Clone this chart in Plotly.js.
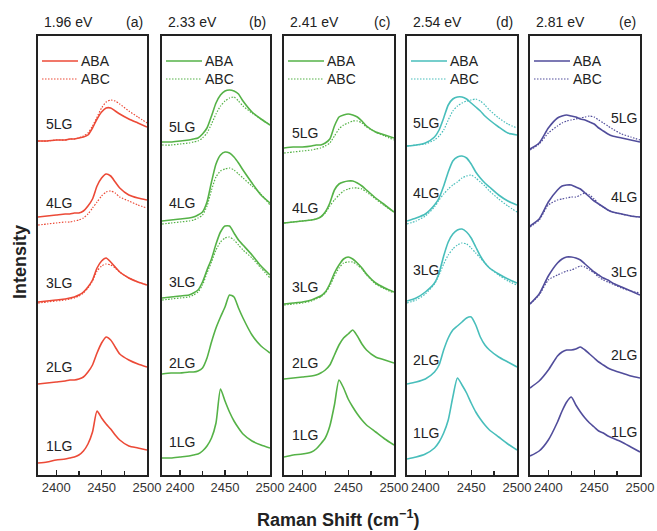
<!DOCTYPE html>
<html>
<head>
<meta charset="utf-8">
<script src="https://cdn.plot.ly/plotly-3.0.1.min.js"></script>
<style>html,body{margin:0;padding:0;background:#fff;}#chart{width:657px;height:531px;}</style>
</head>
<body>
<div id="chart"></div>
<script>
// ---------------- DATA ----------------
const ramanShift = [2380,2390,2400,2410,2415,2420,2425,2430,2435,2440,2445,2450,2455,2460,2465,2470,2480,2490,2500];
const excitationEnergies = ['1.96 eV','2.33 eV','2.41 eV','2.54 eV','2.81 eV'];
const panelTags = ['(a)','(b)','(c)','(d)','(e)'];
const layerLabels = ['5LG','4LG','3LG','2LG','1LG'];
const stackingNames = ['ABA','ABC'];

// Intensity (arb. units, stacked offsets as in the figure)
// 1.96 eV
const a_ABA_5LG = [334,334,335,335,336,336,337,338,340,347,356,363,367,367,364,361,356,352,348];
const a_ABC_5LG = [334,334,335,335,336,336,337,339,342,349,358,367,373,375,374,371,364,358,352];
const a_ABA_4LG = [258,259,260,261,261,262,262,264,269,276,289,297,301,299,293,287,280,277,275];
const a_ABC_4LG = [250,251,252,253,253,254,255,257,261,267,273,279,283,284,282,278,274,270,267];
const a_ABA_3LG = [173,174,175,176,177,178,180,183,188,195,207,214,217,213,208,203,197,193,190];
const a_ABC_3LG = [172,173,174,175,176,177,179,182,187,194,204,209,211,210,207,203,197,193,190];
const a_ABA_2LG = [91,92,93,94,95,95,96,98,103,110,122,132,138,135,128,121,115,111,108];
const a_ABA_1LG = [12,13,15,16,17,18,20,24,31,43,64,57,51,46,40,35,29,27,25];
// 2.33 eV
const b_ABA_5LG = [333,333,334,335,336,337,341,347,359,372,380,384,385,384,381,374,363,356,350];
const b_ABC_5LG = [330,330,331,332,333,334,337,342,351,361,369,374,377,378,374,369,362,356,350];
const b_ABA_4LG = [254,255,256,257,258,260,263,273,293,311,320,323,322,318,312,305,292,280,272];
const b_ABC_4LG = [251,252,253,254,255,257,260,269,285,298,304,306,307,305,301,297,289,281,270];
const b_ABA_3LG = [177,178,179,180,182,185,193,205,216,231,243,249,249,242,235,230,220,209,200];
const b_ABC_3LG = [175,176,177,178,180,183,190,202,213,225,233,237,238,235,230,225,217,207,197];
const b_ABA_2LG = [101,102,102,103,103,104,107,117,133,147,158,168,180,178,167,157,140,129,122];
const b_ABA_1LG = [17,17,18,19,20,21,24,29,37,52,86,74,63,54,47,41,34,30,27];
// 2.41 eV
const c_ABA_5LG = [327,328,328,329,330,330,332,336,349,358,360,361,360,358,354,349,343,340,337];
const c_ABC_5LG = [322,323,324,325,326,327,329,332,339,346,350,352,354,354,352,348,343,339,335];
const c_ABA_4LG = [252,253,254,255,256,258,263,272,285,291,293,294,294,292,289,285,277,270,263];
const c_ABC_4LG = [252,253,254,255,256,258,262,269,275,280,284,286,287,287,286,283,276,269,263];
const c_ABA_3LG = [171,172,173,175,177,179,183,191,202,210,216,218,216,212,207,201,192,187,183];
const c_ABC_3LG = [170,171,172,174,176,178,182,189,199,207,212,213,213,210,206,200,191,186,182];
const c_ABA_2LG = [96,97,98,99,100,102,105,110,120,130,137,141,145,139,131,125,118,115,112];
const c_ABA_1LG = [18,20,21,23,26,31,37,49,70,95,87,76,68,61,55,50,43,36,30];
// 2.54 eV
const d_ABA_5LG = [329,330,332,338,345,357,370,376,378,378,376,372,368,364,359,355,348,342,340];
const d_ABC_5LG = [329,330,331,335,339,345,355,364,369,372,374,375,376,374,370,365,357,351,347];
const d_ABA_4LG = [254,257,261,270,277,289,303,314,318,319,317,311,303,297,292,288,280,274,270];
const d_ABC_4LG = [251,254,259,268,275,281,286,290,293,297,299,300,297,293,289,284,276,269,263];
const d_ABA_3LG = [174,177,183,192,202,219,233,241,245,246,243,237,228,219,212,207,201,196,192];
const d_ABC_3LG = [172,175,181,191,200,211,220,226,230,232,231,227,222,217,212,207,200,194,190];
const d_ABA_2LG = [91,93,96,103,110,125,137,145,149,153,157,158,150,138,130,125,118,113,108];
const d_ABA_1LG = [16,18,21,27,33,42,55,78,97,90,82,72,63,56,50,45,38,31,25];
// 2.81 eV
const e_ABA_5LG = [326,332,347,357,359,360,359,358,356,355,353,351,347,344,341,339,337,335,333];
const e_ABC_5LG = [325,331,342,349,352,354,355,356,357,358,359,358,355,352,349,346,341,338,335];
const e_ABA_4LG = [249,256,273,285,289,290,290,288,286,282,278,274,271,268,265,263,261,259,258];
const e_ABC_4LG = [248,255,270,275,276,277,278,278,280,282,280,276,271,268,265,263,261,259,258];
const e_ABA_3LG = [171,181,199,212,216,218,218,217,215,211,207,203,200,197,195,192,188,184,180];
const e_ABC_3LG = [171,180,195,200,202,204,205,207,209,208,205,202,198,195,193,191,187,184,182];
const e_ABA_2LG = [87,94,105,119,123,125,125,126,128,125,121,117,113,110,107,105,102,99,97];
const e_ABA_1LG = [19,24,35,53,64,73,78,70,63,57,52,48,44,42,39,37,33,28,23];

const xTicks = [2400,2450,2500];
const xMinorTicks = [2425,2475];

// ---------------- STYLE / LAYOUT ----------------
const panelABA = [
  [a_ABA_5LG,a_ABA_4LG,a_ABA_3LG,a_ABA_2LG,a_ABA_1LG],
  [b_ABA_5LG,b_ABA_4LG,b_ABA_3LG,b_ABA_2LG,b_ABA_1LG],
  [c_ABA_5LG,c_ABA_4LG,c_ABA_3LG,c_ABA_2LG,c_ABA_1LG],
  [d_ABA_5LG,d_ABA_4LG,d_ABA_3LG,d_ABA_2LG,d_ABA_1LG],
  [e_ABA_5LG,e_ABA_4LG,e_ABA_3LG,e_ABA_2LG,e_ABA_1LG]
];
const panelABC = [
  [a_ABC_5LG,a_ABC_4LG,a_ABC_3LG],
  [b_ABC_5LG,b_ABC_4LG,b_ABC_3LG],
  [c_ABC_5LG,c_ABC_4LG,c_ABC_3LG],
  [d_ABC_5LG,d_ABC_4LG,d_ABC_3LG],
  [e_ABC_5LG,e_ABC_4LG,e_ABC_3LG]
];
const colors = ['#ec4a37','#55b247','#55b247','#48bebb','#514d9b'];
const W = 657, H = 531;
const panelLeft = [38,162,284,407,530];
const panelRight = [147,270,394,517,640];
const plotTop = 36, plotBottom = 475;
const labelY = [
  [124,203,283,367,446],
  [127,203,282,363,442],
  [133,208,287,363,435],
  [123,193,270,360,433],
  [118,197,272,355,432]
];
const labelX = [44,167,290,411,639];
const px2x = p => p / W;
const py2y = p => (H - p) / H;
const FONT = 'Liberation Sans, Arial, sans-serif';
const DOTS = '1.5px,1.5px';

const traces = [];
const layout = {
  width: W, height: H,
  margin: {l:0, r:0, t:0, b:0},
  paper_bgcolor: '#fff', plot_bgcolor: '#fff',
  showlegend: false,
  font: {family: FONT, color: '#333', size: 13},
  annotations: [], shapes: []
};

for (let p = 0; p < 5; p++) {
  const sfx = p === 0 ? '' : String(p + 1);
  const xa = 'x' + sfx, ya = 'y' + sfx;
  panelABA[p].forEach((ys, i) => {
    traces.push({x: ramanShift, y: ys, xaxis: xa, yaxis: ya, type: 'scatter', mode: 'lines',
      line: {color: colors[p], width: 1.6, shape: 'spline', smoothing: 0.6},
      name: stackingNames[0] + ' ' + layerLabels[i], hoverinfo: 'skip'});
  });
  panelABC[p].forEach((ys, i) => {
    traces.push({x: ramanShift, y: ys, xaxis: xa, yaxis: ya, type: 'scatter', mode: 'lines',
      line: {color: colors[p], width: 1.2, dash: DOTS, shape: 'spline', smoothing: 0.6},
      name: stackingNames[1] + ' ' + layerLabels[i], hoverinfo: 'skip'});
  });
  layout['xaxis' + sfx] = {
    domain: [px2x(panelLeft[p]), px2x(panelRight[p])], anchor: ya,
    range: [2380, 2500], tickvals: xTicks, ticks: 'inside', ticklen: 5, tickwidth: 1.3,
    tickcolor: '#222', showline: true, mirror: true, linecolor: '#222', linewidth: 1.6,
    showgrid: false, zeroline: false, tickfont: {family: FONT, size: 13, color: '#333'},
    minor: {tickvals: xMinorTicks, ticks: 'inside', ticklen: 4, tickwidth: 1.3, tickcolor: '#222'}
  };
  layout['yaxis' + sfx] = {
    domain: [py2y(plotBottom), py2y(plotTop)], anchor: xa,
    range: [0, plotBottom - plotTop], showticklabels: false, ticks: '',
    showline: true, mirror: true, linecolor: '#222', linewidth: 1.6,
    showgrid: false, zeroline: false
  };
  // titles
  layout.annotations.push({xref: 'paper', yref: 'paper', x: px2x(panelLeft[p] + 4), y: py2y(22),
    xanchor: 'left', yanchor: 'middle', text: excitationEnergies[p], showarrow: false,
    font: {family: FONT, size: 14, color: '#222'}});
  layout.annotations.push({xref: 'paper', yref: 'paper', x: px2x(panelRight[p] - 2), y: py2y(22),
    xanchor: 'right', yanchor: 'middle', text: panelTags[p], showarrow: false,
    font: {family: FONT, size: 14, color: '#222'}});
  // legend
  [61, 79].forEach((ly, k) => {
    layout.shapes.push({type: 'line', xref: 'paper', yref: 'paper',
      x0: px2x(panelLeft[p] + 4), x1: px2x(panelLeft[p] + 40), y0: py2y(ly), y1: py2y(ly),
      line: {color: colors[p], width: k === 0 ? 1.6 : 1.2, dash: k === 0 ? 'solid' : DOTS}});
    layout.annotations.push({xref: 'paper', yref: 'paper', x: px2x(panelLeft[p] + 41), y: py2y(ly),
      xanchor: 'left', yanchor: 'middle', text: stackingNames[k], showarrow: false,
      font: {family: FONT, size: 14, color: '#222'}});
  });
  // layer labels
  layerLabels.forEach((lab, i) => {
    layout.annotations.push({xref: 'paper', yref: 'paper', x: px2x(labelX[p]), y: py2y(labelY[p][i]),
      xanchor: p === 4 ? 'right' : 'left', yanchor: 'middle', text: lab, showarrow: false,
      font: {family: FONT, size: 14, color: '#222'}});
  });
}
// axis titles
layout.annotations.push({xref: 'paper', yref: 'paper', x: px2x(20), y: py2y(262), textangle: -90,
  xanchor: 'center', yanchor: 'middle', text: '<b>Intensity</b>', showarrow: false,
  font: {family: FONT, size: 18, color: '#222'}});
layout.annotations.push({xref: 'paper', yref: 'paper', x: px2x(338), y: py2y(518),
  xanchor: 'center', yanchor: 'middle', text: '<b>Raman Shift (cm<sup>−1</sup>)</b>', showarrow: false,
  font: {family: FONT, size: 18, color: '#222'}});

Plotly.newPlot('chart', traces, layout, {staticPlot: true, displayModeBar: false});
</script>
</body>
</html>
